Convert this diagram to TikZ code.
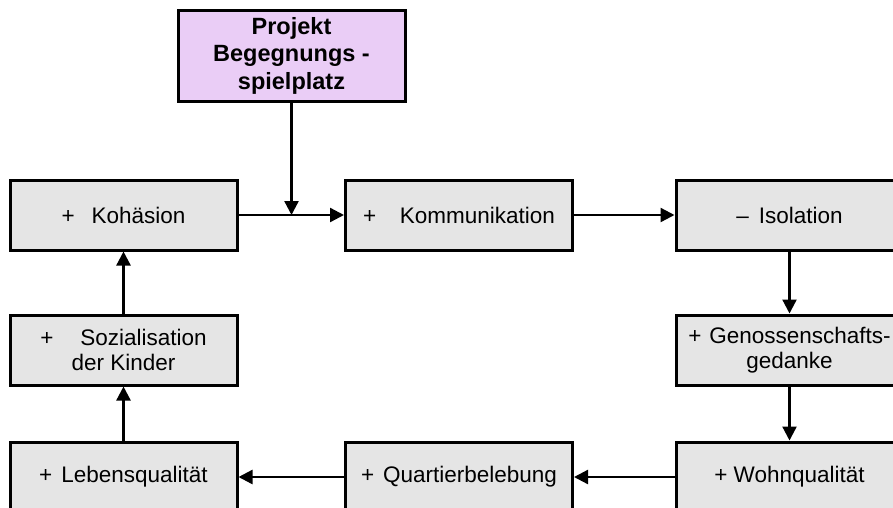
\documentclass[tikz,border=0pt]{standalone}
\usepackage{fontspec}
\setmainfont{Liberation Sans}
\usetikzlibrary{arrows.meta}
\definecolor{boxgray}{RGB}{229,229,229}
\definecolor{lavender}{RGB}{234,205,246}
\tikzset{
  factor/.style={draw=black, line width=3pt, fill=boxgray,
    minimum width=227pt, minimum height=70pt, inner sep=2pt,
    align=center, font=\fontsize{22.5}{25.5}\selectfont},
  project/.style={factor, fill=lavender, minimum height=91pt,
    font=\fontsize{23.5}{27.5}\selectfont\bfseries},
  link/.style={line width=2.3pt, -{Triangle[length=14pt,width=14pt]}}
}
\begin{document}
\begin{tikzpicture}[x=1pt,y=-1pt]
\useasboundingbox (0,0) rectangle (893,507);
\clip (0,0) rectangle (893,507);
\fill[white] (0,0) rectangle (893,507);

% project box on top
\node[project] (proj) at (291.5,55.5) {Projekt\\Begegnungs -\\spielplatz};

% loop of effects
\node[factor] (koh) at (123.5,215) {+\hspace{0.75em}Kohäsion};
\node[factor] (kom) at (459,215) {+\hspace{1.05em}Kommunikation};
\node[factor] (iso) at (789.5,215) {–\hspace{0.45em}Isolation};
\node[factor] (gen) at (789.5,350) {+\hspace{0.35em}Genossenschafts-\\gedanke};
\node[factor] (woh) at (789.5,477) {+ Wohnqualität};
\node[factor] (qua) at (459,477) {+\hspace{0.4em}Quartierbelebung};
\node[factor] (leb) at (123.5,477) {+\hspace{0.4em}Lebensqualität};
\node[factor] (soz) at (123.5,350) {+\hspace{1.2em}Sozialisation\\der Kinder};

% connectors
\coordinate (join) at (proj.south |- koh.east);
\draw[link] (proj.south) -- (join);
\draw[link] (koh.east) -- (kom.west);
\draw[link] (kom.east) -- (iso.west);
\draw[link] (iso.south) -- (gen.north);
\draw[link] (gen.south) -- (woh.north);
\draw[link] (woh.west) -- (qua.east);
\draw[link] (qua.west) -- (leb.east);
\draw[link] (leb.north) -- (soz.south);
\draw[link] (soz.north) -- (koh.south);
\end{tikzpicture}
\end{document}
